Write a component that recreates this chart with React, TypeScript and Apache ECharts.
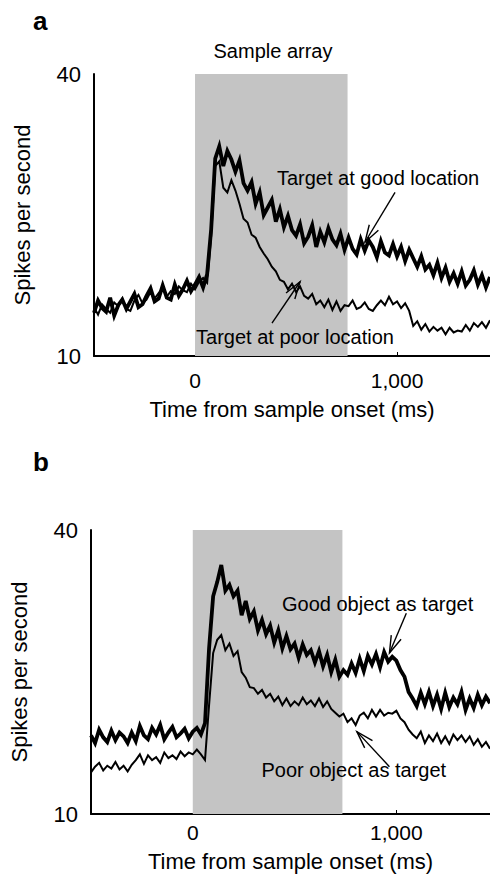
import React, { useEffect, useRef } from "react";
import * as echarts from "echarts";

// ---- data ----
const binStartMs = -500;
const binWidthMs = 20;

// Panel a: spikes/s, 20 ms bins from -500 ms
const goodLocationRate = [
  14.6, 15.9, 15.1, 14.7, 16.2, 14.3, 15.4, 16.0, 15.0, 15.8,
  16.6, 15.2, 15.5, 16.4, 17.2, 15.8, 16.1, 17.5, 16.2, 16.0,
  17.6, 16.4, 17.1, 18.0, 16.9, 17.6, 18.4, 17.3, 18.7, 23.5,
  31.0, 32.3, 30.2, 31.8, 30.9, 29.6, 30.8, 28.4, 27.6, 28.5,
  26.2, 27.4, 25.0, 25.8, 26.6, 24.3, 25.6, 23.7, 24.9, 23.4,
  22.8, 24.0, 22.0, 22.7, 23.9, 21.6, 23.2, 22.1, 23.6, 22.4,
  21.8, 23.0, 21.3, 22.6, 21.4, 20.8, 22.4, 21.2, 22.3, 21.6,
  20.5, 22.2, 21.0, 20.7, 21.9, 20.6, 21.6, 20.1, 21.3, 20.4,
  19.5, 20.6, 19.2, 19.7, 18.6, 19.9, 18.3, 19.4, 17.9, 18.8,
  17.7, 19.0, 17.5, 18.1, 19.1, 17.6, 18.6, 17.3, 18.4,
];
const poorLocationRate = [
  15.2, 14.4, 15.5, 15.0, 14.6, 15.7, 15.3, 16.1, 15.0, 14.8,
  15.9, 16.5, 15.6, 16.0, 16.8, 16.1, 16.7, 17.2, 16.3, 16.9,
  16.6, 17.4, 17.0, 16.8, 17.7, 17.1, 17.9, 18.3, 17.8, 22.8,
  30.2, 30.7, 27.9, 27.4, 28.7, 27.6, 26.2, 24.6, 24.2, 22.9,
  22.6, 21.6, 20.9, 20.3, 19.5, 19.0, 18.1, 17.9, 17.1, 17.7,
  16.8, 17.4, 16.4, 16.1, 16.6, 15.5, 15.9, 15.2, 16.0, 14.9,
  15.8, 14.8, 15.4, 15.3, 15.9, 15.0, 15.2, 15.7, 15.0, 14.8,
  15.4, 15.9, 15.4, 16.3, 15.5, 15.8, 15.1, 15.6, 14.8, 13.2,
  13.7, 12.8, 13.4, 12.6, 13.1, 12.7, 13.0, 12.3, 13.0, 12.5,
  12.7, 12.6, 13.3, 12.7, 13.5, 13.1, 13.6, 13.0, 13.8,
];
// Panel b
const goodObjectRate = [
  18.3, 17.5, 18.9, 18.1, 17.6, 18.8, 17.8, 18.6, 18.2, 17.5,
  18.6, 17.7, 19.3, 18.3, 17.9, 19.1, 18.4, 19.4, 17.9, 18.6,
  19.2, 18.1, 18.5, 19.0, 18.0, 18.7, 19.1, 18.4, 19.6, 27.5,
  33.0, 34.5, 36.3, 33.6, 34.2, 33.0, 33.6, 31.0, 32.5, 30.6,
  31.4, 29.4, 30.5, 29.0, 29.9, 28.1, 29.4, 27.5, 28.8, 27.4,
  28.0, 26.5, 27.9, 26.8, 27.3, 26.0, 27.2, 25.6, 26.8, 25.0,
  26.3, 24.5, 25.2, 24.7, 25.9, 24.9, 26.4, 25.1, 26.7, 25.8,
  26.9, 25.5, 27.1, 26.1, 26.6, 26.2, 25.2, 24.5, 22.9, 22.2,
  21.4, 22.8, 21.6, 22.9, 21.4, 22.6, 21.1, 22.8, 21.3, 22.3,
  21.6, 22.9, 21.0, 22.2, 21.2, 22.6, 21.5, 22.4, 21.7,
];
const poorObjectRate = [
  14.4, 15.0, 15.4, 14.6, 15.1, 14.8, 15.5, 14.7, 15.1, 14.5,
  15.2, 15.7, 16.3, 15.3, 16.2, 15.7, 16.0, 15.4, 16.5, 15.9,
  16.2, 15.8, 16.6, 16.1, 16.5, 16.3, 16.8, 16.3, 15.7, 21.5,
  27.0, 28.4, 28.9, 27.3, 28.0, 26.7, 27.2, 25.0, 24.4, 23.4,
  23.3, 22.7, 23.1, 22.3, 22.7, 21.9, 22.4, 21.5, 22.2, 21.4,
  21.9, 21.5, 22.3, 21.6, 22.0, 21.4, 22.2, 21.3, 21.9, 21.1,
  20.7, 20.3, 20.6, 19.7, 20.1, 19.4, 20.4, 20.7, 20.1, 21.0,
  20.3, 21.0, 20.4, 20.7, 20.6, 20.9, 20.1, 19.7, 18.9, 18.4,
  18.0, 18.7, 17.5, 18.3, 17.7, 18.5, 17.5, 18.2, 17.4, 18.4,
  17.8, 18.3, 17.6, 18.2, 17.3, 17.9, 17.1, 17.6, 16.9,
];

const xTicks = [0, 1000];
const yTicks = [10, 40];
const xRange = [-500, 1460];
const yRange = [10, 40];
const sampleWindowA = [0, 755];
const sampleWindowB = [0, 735];

const panelLabels = ["a", "b"];
const axisNameX = "Time from sample onset (ms)";
const axisNameY = "Spikes per second";
const sampleLabel = "Sample array";

type Note = { text: string; at: number[]; tail: number[]; tip: number[] };
const notesA: Note[] = [
  { text: "Target at good location", at: [906, 28.9], tail: [990, 27.4], tip: [841, 22.1] },
  { text: "Target at poor location", at: [495, 12.0], tail: [381, 13.5], tip: [520, 17.9] },
];
const notesB: Note[] = [
  { text: "Good object as target", at: [908, 32.2], tail: [1049, 31.2], tip: [966, 27.0] },
  { text: "Poor object as target", at: [791, 14.6], tail: [966, 15.0], tip: [806, 18.7] },
];

const FONT = "'Liberation Sans', Arial, Helvetica, sans-serif";

const toPairs = (vals: number[]) => vals.map((v, i) => [binStartMs + i * binWidthMs, v]);
const fmtThousands = (v: number) => String(v).replace(/\B(?=(\d{3})+(?!\d))/g, ",");

const xAxisFor = (gi: number, labelMargin: number, nameGap: number) => ({
  type: "value",
  gridIndex: gi,
  min: xRange[0],
  max: xRange[1],
  axisLine: { show: true, onZero: false, lineStyle: { color: "#000", width: 2 } },
  axisTick: { show: true, inside: true, length: 4, customValues: xTicks, lineStyle: { color: "#000", width: 1 } },
  axisLabel: { customValues: xTicks, formatter: (v: number) => fmtThousands(v), color: "#000", fontSize: 21, fontFamily: FONT, margin: labelMargin },
  splitLine: { show: false },
  name: axisNameX,
  nameLocation: "middle",
  nameGap,
  nameTextStyle: { color: "#000", fontSize: 22, fontFamily: FONT },
});

const yAxisFor = (gi: number) => ({
  type: "value",
  gridIndex: gi,
  min: yRange[0],
  max: yRange[1],
  axisLine: { show: true, onZero: false, lineStyle: { color: "#000", width: 2 } },
  axisTick: { show: false },
  axisLabel: { customValues: yTicks, color: "#000", fontSize: 22, fontFamily: FONT, margin: 13 },
  splitLine: { show: false },
  name: axisNameY,
  nameLocation: "middle",
  nameRotate: 90,
  nameGap: 61,
  nameTextStyle: { color: "#000", fontSize: 22, fontFamily: FONT },
});

const lineSeries = (gi: number, vals: number[], width: number, shade?: number[]) => ({
  type: "line",
  xAxisIndex: gi,
  yAxisIndex: gi,
  data: toPairs(vals),
  symbol: "none",
  lineStyle: { color: "#000", width, join: "miter" },
  z: 3,
  ...(shade
    ? {
        markArea: {
          silent: true,
          itemStyle: { color: "#c4c4c4" },
          data: [[{ xAxis: shade[0] }, { xAxis: shade[1] }]],
          z: 1,
        },
      }
    : {}),
});

export default function App() {
  const ref = useRef<HTMLDivElement>(null);
  useEffect(() => {
    if (!ref.current) return;
    const chart = echarts.init(ref.current, undefined, { renderer: "svg" });
    chart.setOption({
      animation: false,
      backgroundColor: "#fff",
      grid: [
        { left: 94, top: 74, width: 396, height: 282 },
        { left: 86, top: 530, width: 404, height: 284 },
      ],
      xAxis: [xAxisFor(0, 14, 42), xAxisFor(1, 8, 36)],
      yAxis: [yAxisFor(0), yAxisFor(1)],
      series: [
        lineSeries(0, poorLocationRate, 2, sampleWindowA),
        lineSeries(0, goodLocationRate, 3.8),
        lineSeries(1, poorObjectRate, 2, sampleWindowB),
        lineSeries(1, goodObjectRate, 3.8),
      ],
    });

    const elements: any[] = [
      { type: "text", x: 33, y: 21, style: { text: panelLabels[0], font: `900 26px ${FONT}`, fill: "#000", align: "left", verticalAlign: "middle" } },
      { type: "text", x: 33, y: 462, style: { text: panelLabels[1], font: `900 26px ${FONT}`, fill: "#000", align: "left", verticalAlign: "middle" } },
      { type: "text", x: 273, y: 51, style: { text: sampleLabel, fontSize: 20, fontFamily: FONT, fill: "#000", align: "center", verticalAlign: "middle" } },
    ];
    const addNotes = (notes: Note[], gi: number) => {
      notes.forEach((n) => {
        const p = chart.convertToPixel({ gridIndex: gi } as any, n.at) as number[];
        const tail = chart.convertToPixel({ gridIndex: gi } as any, n.tail) as number[];
        const tip = chart.convertToPixel({ gridIndex: gi } as any, n.tip) as number[];
        const dx = tail[0] - tip[0];
        const dy = tail[1] - tip[1];
        const len = Math.hypot(dx, dy) || 1;
        const ux = dx / len;
        const uy = dy / len;
        const L = 18;
        const a = 0.3;
        const rot = (s: number) => [
          tip[0] + L * (ux * Math.cos(s * a) - uy * Math.sin(s * a)),
          tip[1] + L * (ux * Math.sin(s * a) + uy * Math.cos(s * a)),
        ];
        elements.push({ type: "line", z: 20, shape: { x1: tail[0], y1: tail[1], x2: tip[0], y2: tip[1] }, style: { stroke: "#000", lineWidth: 1.4 } });
        elements.push({ type: "polyline", z: 20, shape: { points: [rot(1), tip, rot(-1)] }, style: { stroke: "#000", fill: null, lineWidth: 1.4 } });
        elements.push({ type: "text", z: 21, x: p[0], y: p[1], style: { text: n.text, fontSize: 20, fontFamily: FONT, fill: "#000", align: "center", verticalAlign: "middle" } });
      });
    };
    addNotes(notesA, 0);
    addNotes(notesB, 1);
    chart.setOption({ graphic: { elements } });

    return () => chart.dispose();
  }, []);
  return <div ref={ref} style={{ position: "fixed", left: 0, top: 0, width: 490, height: 880, background: "#fff" }} />;
}
